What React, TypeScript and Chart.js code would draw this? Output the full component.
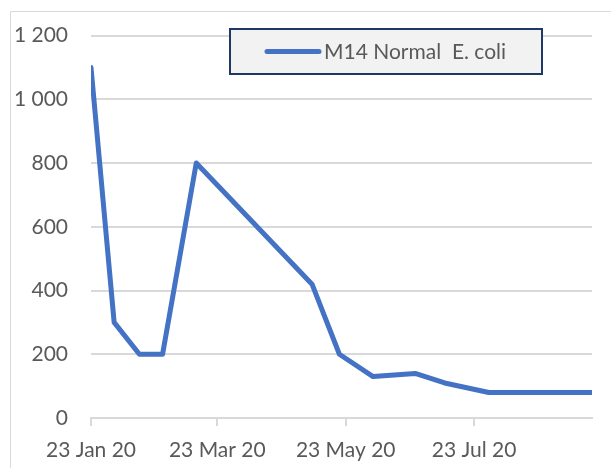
import React, { useEffect, useRef } from "react";
import { Chart, registerables } from "chart.js";

Chart.register(...registerables);

const seriesLabel = "M14 Normal  E. coli";
const sampleDates = [
  "2020-01-23", "2020-02-03", "2020-02-15", "2020-02-26", "2020-03-13", "2020-05-07",
  "2020-05-20", "2020-06-05", "2020-06-25", "2020-07-09", "2020-07-30", "2020-09-17",
];
const sampleValues = [1100, 300, 200, 200, 800, 420, 200, 130, 140, 110, 80, 80];
const tickDates = ["2020-01-23", "2020-03-23", "2020-05-23", "2020-07-23"];
const tickLabels = ["23 Jan 20", "23 Mar 20", "23 May 20", "23 Jul 20"];
const yTicks = [0, 200, 400, 600, 800, 1000, 1200];
const yTickLabels = ["0", "200", "400", "600", "800", "1 000", "1 200"];

const DAY = 86400000;
const origin = Date.UTC(2020, 0, 23);
const toDay = (s: string) => {
  const [y, m, d] = s.split("-").map(Number);
  return Math.round((Date.UTC(y, m - 1, d) - origin) / DAY);
};

const FONT = "Lato, 'Open Sans', sans-serif";
const FONT_SIZE = 21;
const TEXT = "#595959";
const GRID = "#d9d9d9";
const LINE = "#4472c4";

const framePlugin = {
  id: "frame",
  beforeDraw(chart: any) {
    const ctx = chart.ctx;
    ctx.save();
    ctx.fillStyle = "#ffffff";
    ctx.fillRect(0, 0, chart.width, chart.height);
    ctx.strokeStyle = GRID;
    ctx.lineWidth = 1;
    ctx.beginPath();
    ctx.moveTo(10.5, chart.height);
    ctx.lineTo(10.5, 11.5);
    ctx.lineTo(chart.width, 11.5);
    ctx.stroke();
    ctx.restore();
  },
};

const legendBoxPlugin = {
  id: "legendBox",
  afterDraw(chart: any) {
    const ctx = chart.ctx;
    const ds = chart.data.datasets[0];
    ctx.save();
    ctx.fillStyle = "#f2f2f2";
    ctx.fillRect(230, 29, 312, 45);
    ctx.strokeStyle = "#203864";
    ctx.lineWidth = 2;
    ctx.strokeRect(230, 29, 312, 45);
    ctx.strokeStyle = ds.borderColor;
    ctx.lineWidth = 5;
    ctx.lineCap = "round";
    ctx.beginPath();
    ctx.moveTo(267, 51.5);
    ctx.lineTo(319, 51.5);
    ctx.stroke();
    ctx.fillStyle = TEXT;
    ctx.font = `${FONT_SIZE}px ${FONT}`;
    ctx.textBaseline = "middle";
    ctx.textAlign = "left";
    ctx.fillText(ds.label, 324, 52);
    ctx.restore();
  },
};

export default function App() {
  const ref = useRef<HTMLCanvasElement | null>(null);
  useEffect(() => {
    if (!ref.current) return;
    const points = sampleDates.map((d, i) => ({ x: toDay(d), y: sampleValues[i] }));
    const xTickVals = tickDates.map(toDay);
    const chart = new Chart(ref.current, {
      type: "line",
      data: {
        datasets: [
          {
            label: seriesLabel,
            data: points,
            borderColor: LINE,
            backgroundColor: LINE,
            borderWidth: 5,
            borderJoinStyle: "round",
            borderCapStyle: "round",
            pointRadius: 0,
            tension: 0,
          },
        ],
      },
      options: {
        responsive: false,
        animation: false,
        devicePixelRatio: 1,
        layout: { padding: { top: 35, right: 19, left: 0, bottom: 0 } },
        plugins: { legend: { display: false }, tooltip: { enabled: false } },
        scales: {
          x: {
            type: "linear",
            min: toDay(sampleDates[0]),
            max: toDay(sampleDates[sampleDates.length - 1]),
            afterBuildTicks: (scale: any) => {
              scale.ticks = xTickVals.map((v) => ({ value: v }));
            },
            afterFit: (scale: any) => {
              scale.height = 50;
            },
            ticks: {
              autoSkip: false,
              maxRotation: 0,
              padding: 12,
              color: TEXT,
              font: { family: FONT, size: FONT_SIZE },
              callback: (v: any) => {
                const i = xTickVals.indexOf(Number(v));
                return i >= 0 ? tickLabels[i] : "";
              },
            },
            grid: {
              drawOnChartArea: false,
              drawTicks: true,
              tickLength: 8,
              color: GRID,
              lineWidth: 2,
            },
            border: { display: true, color: GRID, width: 2 },
          },
          y: {
            min: 0,
            max: 1200,
            afterBuildTicks: (scale: any) => {
              scale.ticks = yTicks.map((v) => ({ value: v }));
            },
            afterFit: (scale: any) => {
              scale.width = 91;
            },
            ticks: {
              padding: 23,
              color: TEXT,
              font: { family: FONT, size: FONT_SIZE },
              callback: (v: any) => {
                const i = yTicks.indexOf(Number(v));
                return i >= 0 ? yTickLabels[i] : "";
              },
            },
            grid: { drawTicks: false, color: GRID, lineWidth: 2 },
            border: { display: false },
          },
        },
      },
      plugins: [framePlugin, legendBoxPlugin],
    } as any);
    return () => chart.destroy();
  }, []);
  return (
    <div style={{ position: "fixed", left: 0, top: 0, width: 611, height: 468 }}>
      <canvas ref={ref} width={611} height={468} style={{ display: "block" }} />
    </div>
  );
}
